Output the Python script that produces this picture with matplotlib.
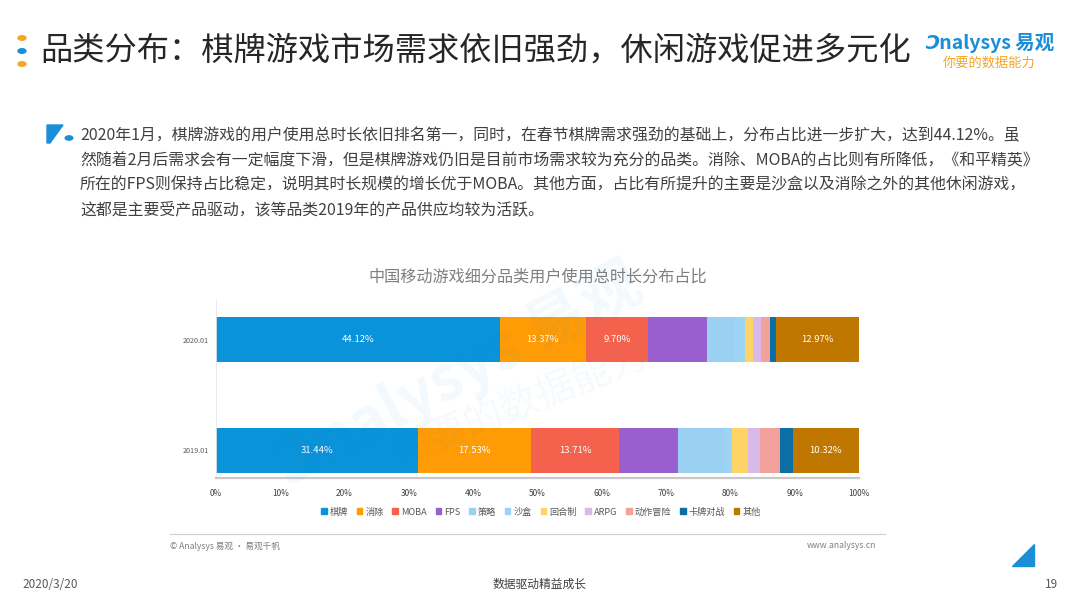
import matplotlib
matplotlib.use("Agg")
import matplotlib.pyplot as plt
from matplotlib.patches import Polygon, Circle

plt.rcParams['font.family'] = ['Noto Sans CJK SC', 'DejaVu Sans']

# data
categories = ["棋牌", "消除", "MOBA", "FPS", "策略", "沙盒", "回合制", "ARPG", "动作冒险", "卡牌对战", "其他"]
share_2019 = [31.44, 17.53, 13.71, 9.10, 7.30, 1.20, 2.40, 1.90, 3.10, 2.00, 10.32]
share_2020 = [44.12, 13.37, 9.70, 9.20, 4.30, 1.60, 1.20, 1.30, 1.30, 0.94, 12.97]
periods = ["2019.01", "2020.01"]
labeled = ["棋牌", "消除", "MOBA", "其他"]
xticks = [0, 10, 20, 30, 40, 50, 60, 70, 80, 90, 100]

colors = ["#0a93d9", "#ff9b05", "#f4624d", "#9a5fce", "#9ad1f3", "#9dd3f4",
          "#fdd465", "#d8b9ea", "#f3a29b", "#0b6fa4", "#c07700"]

fig = plt.figure(figsize=(10.8, 6.08), dpi=100)
fig.patch.set_facecolor("white")

# header
dot_cols = ["#f5a623", "#1a8fd8", "#f5a623"]
for i, c in enumerate(dot_cols):
    fig.add_artist(Circle((22 / 1080, 1 - (38 + 13 * i) / 608), 0.0037,
                          transform=fig.transFigure, color=c))
fig.text(40 / 1080, 1 - 51 / 608, "品类分布：棋牌游戏市场需求依旧强劲，休闲游戏促进多元化",
         fontsize=23.2, color="#262626", va="center", ha="left")
fig.text(925 / 1080, 1 - 43 / 608, "Ͻnalysys 易观", fontsize=14, color="#1a8fd8",
         va="center", ha="left", fontweight="bold", style="italic")
fig.text(943 / 1080, 1 - 63 / 608, "你要的数据能力", fontsize=9.5, color="#f5a623",
         va="center", ha="left", style="italic")

# paragraph
fig.add_artist(Polygon([(47 / 1080, 1 - 125 / 608), (63 / 1080, 1 - 125 / 608),
                        (50 / 1080, 1 - 143 / 608), (47 / 1080, 1 - 143 / 608)],
                       closed=True, transform=fig.transFigure, color="#1a8fd8"))
fig.add_artist(Circle((69 / 1080, 1 - 138 / 608), 0.0035,
                      transform=fig.transFigure, color="#1a8fd8"))
para = ["2020年1月，棋牌游戏的用户使用总时长依旧排名第一，同时，在春节棋牌需求强劲的基础上，分布占比进一步扩大，达到44.12%。虽",
        "然随着2月后需求会有一定幅度下滑，但是棋牌游戏仍旧是目前市场需求较为充分的品类。消除、MOBA的占比则有所降低，《和平精英》",
        "所在的FPS则保持占比稳定，说明其时长规模的增长优于MOBA。其他方面，占比有所提升的主要是沙盒以及消除之外的其他休闲游戏，",
        "这都是主要受产品驱动，该等品类2019年的产品供应均较为活跃。"]
for i, line in enumerate(para):
    fig.text(80 / 1080, 1 - (136 + 24.7 * i) / 608, line, fontsize=11.45,
             color="#404040", va="center", ha="left")

# chart title
fig.text(538 / 1080, 1 - 277 / 608, "中国移动游戏细分品类用户使用总时长分布占比",
         fontsize=11.6, color="#7f7f7f", va="center", ha="center")

# watermark
fig.text(460 / 1080, 1 - 375 / 608, "Ͻnalysys 易观", fontsize=44, color="#1a8fd8",
         alpha=0.05, rotation=28, ha="center", va="center", fontweight="bold")
fig.text(520 / 1080, 1 - 405 / 608, "你要的数据能力", fontsize=28, color="#1a8fd8",
         alpha=0.045, rotation=22, ha="center", va="center")

ax = fig.add_axes([216 / 1080, 1 - 478 / 608, 643 / 1080, 178 / 608])
ax.set_facecolor("none")

ypos = [0, 1]
for y, vals in zip(ypos, [share_2019, share_2020]):
    left = 0
    for cat, v, c in zip(categories, vals, colors):
        ax.barh(y, v, left=left, height=0.405, color=c, edgecolor="none")
        if cat in labeled:
            ax.text(left + v / 2, y, f"{v:.2f}%", color="white", fontsize=6.8,
                    ha="center", va="center")
        left += v

ax.set_xlim(0, 100)
ax.set_ylim(-0.248, 1.356)
ax.set_yticks(ypos)
ax.set_yticklabels(periods, fontsize=5.2, color="#595959")
ax.set_xticks(xticks)
ax.set_xticklabels([f"{t}%" for t in xticks], fontsize=6, color="#404040")
ax.tick_params(length=0, pad=8)
ax.tick_params(axis="y", pad=5)
for s in ["top", "right"]:
    ax.spines[s].set_visible(False)
ax.spines["left"].set_color("#e6e6e6")
ax.spines["left"].set_linewidth(0.6)
ax.spines["bottom"].set_color("#c8c8c8")
ax.spines["bottom"].set_linewidth(1.6)

handles = [plt.Rectangle((0, 0), 1, 1, color=c) for c in colors]
fig.legend(handles, categories, loc="center", bbox_to_anchor=(541 / 1080, 1 - 512 / 608),
           ncol=len(categories), frameon=False, fontsize=6.6, handlelength=0.6,
           handleheight=0.6, handletextpad=0.35, columnspacing=0.95, labelcolor="#595959")

# footer
fig.add_artist(plt.Line2D([170 / 1080, 885 / 1080], [1 - 534 / 608, 1 - 534 / 608],
                          transform=fig.transFigure, color="#d0d0d0", linewidth=0.8))
fig.text(170 / 1080, 1 - 546 / 608, "© Analysys 易观 · 易观千帆", fontsize=6.2,
         color="#7f7f7f", va="center", ha="left")
fig.text(876 / 1080, 1 - 546 / 608, "www.analysys.cn", fontsize=6.2,
         color="#7f7f7f", va="center", ha="right")
fig.add_artist(Polygon([(1012 / 1080, 1 - 566 / 608), (1034 / 1080, 1 - 566 / 608),
                        (1034 / 1080, 1 - 544 / 608)],
                       closed=True, transform=fig.transFigure, color="#1a8fd8"))
fig.text(22 / 1080, 1 - 584 / 608, "2020/3/20", fontsize=8.5, color="#595959",
         va="center", ha="left")
fig.text(540 / 1080, 1 - 584 / 608, "数据驱动精益成长", fontsize=8.5, color="#404040",
         va="center", ha="center")
fig.text(1058 / 1080, 1 - 584 / 608, "19", fontsize=8.5, color="#595959",
         va="center", ha="right")

fig.savefig("out.png", dpi=100)
